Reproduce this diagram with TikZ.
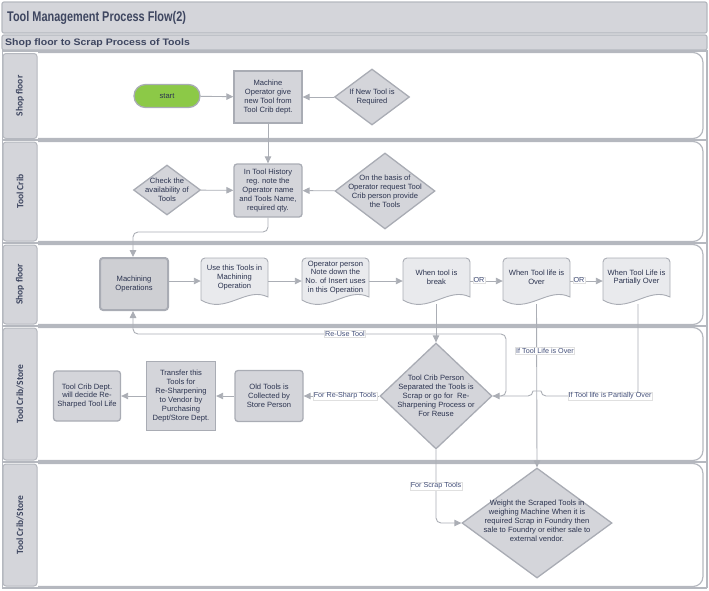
\documentclass[tikz,border=0pt]{standalone}
\usepackage{fontspec}
\setmainfont{Liberation Sans}
\newfontfamily\lanefont{Carlito}
\newfontfamily\titlefam{Liberation Sans}[FakeStretch=0.78]
\newfontfamily\subfam{Liberation Sans}[FakeStretch=1.12]
\usetikzlibrary{arrows.meta,shapes.geometric,calc}
\definecolor{boxfill}{HTML}{D4D5DA}
\definecolor{boxline}{HTML}{A9ACB4}
\definecolor{docfill}{HTML}{E9EAED}
\definecolor{txt}{HTML}{2C3450}
\definecolor{conn}{HTML}{ABAEB5}
\definecolor{lbl}{HTML}{44507A}
\definecolor{startg}{HTML}{8CC947}
\definecolor{laneline}{HTML}{B5B8BF}
\definecolor{titlec}{HTML}{3E4660}
\tikzset{
  base/.style={font=\fontsize{7.6}{8.9}\selectfont, text=txt, align=center, inner sep=1pt},
  box/.style={base, draw=boxline, line width=1.3pt, fill=boxfill, minimum width=68pt, minimum height=52pt},
  dia/.style={diamond, draw=boxline, line width=1.3pt, fill=boxfill, inner sep=0pt},
  docsty/.style={draw=boxline, line width=0.9pt, fill=docfill},
  docanchor/.style={draw=none, minimum width=67pt, minimum height=46pt, inner sep=0pt},
  conn/.style={draw=conn, line width=0.9pt, -{Triangle[length=7pt,width=6.5pt]}, rounded corners=5},
  elabel/.style={font=\fontsize{7.2}{8}\selectfont, text=lbl, fill=white, draw=black!12, line width=0.3pt, inner sep=0.8pt},
  lanelbl/.style={draw=laneline, fill=boxfill, line width=1pt, rounded corners=3, rotate=90, minimum height=34pt, inner sep=0pt,
     font=\lanefont\bfseries\fontsize{9.5}{11}\selectfont, text=titlec},
  lanein/.style={draw=laneline, line width=1.2pt, rounded corners=10},
  sepline/.style={draw=laneline, line width=2.6pt},
  barsty/.style={draw=laneline, fill=boxfill, line width=1.2pt, rounded corners=2}
}
\newcommand\docshape[4]{%
  \begin{scope}[shift={(#2,#3)}]
    \draw[docsty] (0,42) -- (0,4) .. controls (0,1.8) and (1.8,0) .. (4,0) -- (63,0)
      .. controls (65.2,0) and (67,1.8) .. (67,4) -- (67,39)
      .. controls (45,28) and (25,57) .. (0,42) -- cycle;
  \end{scope}
  \node[docanchor] (#1) at (#2+33.5,#3+23) {};
  \node[base] (#1t) at (#2+33.5,#3+19.5) {#4};
}
\begin{document}
\begin{tikzpicture}[x=1pt,y=-1pt]
\useasboundingbox (0,0) rectangle (709,590);
% title bars
\draw[barsty] (2,2) rectangle (707,33);
\node[anchor=west, font=\titlefam\bfseries\fontsize{14}{16}\selectfont, text=titlec, inner sep=0pt] (title) at (7,18) {Tool Management Process Flow(2)};
\draw[barsty] (2,35) rectangle (707,50);
\node[anchor=west, font=\subfam\bfseries\fontsize{9.4}{10}\selectfont, text=titlec, inner sep=0pt] (subtitle) at (5,43) {Shop floor to Scrap Process of Tools};
% lanes
\foreach \t/\b in {51/140,140/243,243/326,326/462,462/588}{
  \draw[lanein] (38,\t+1.5) -- (703,\t+1.5) -- (703,\b-1.5) -- (38,\b-1.5);
}
\node[lanelbl, minimum width=85pt] (lane1) at (20,96) {Shop floor};
\node[lanelbl, minimum width=99pt] (lane2) at (20,191.5) {Tool Crib};
\node[lanelbl, minimum width=79pt] (lane3) at (20,284.5) {Shop floor};
\node[lanelbl, minimum width=132pt] (lane4) at (20,394) {Tool Crib/Store};
\node[lanelbl, minimum width=122pt] (lane5) at (20,525) {Tool Crib/Store};
\foreach \y in {51,140,243,326,462,588}{
  \draw[sepline] (2,\y) -- (707,\y);
}
\draw[sepline] (707,50) -- (707,588);
\draw[draw=laneline, line width=1pt] (2,50) -- (2,588);

% lane 1
\node[base, draw=boxline, line width=1.3pt, fill=startg, rounded corners=11.5, minimum width=66pt, minimum height=23pt] (start) at (167,96) {start};
\node[box] (give) at (268,97) {Machine\\Operator give\\new Tool from\\Tool Crib dept.};
\node[dia, minimum width=75pt, minimum height=56pt] (newq) at (372,97) {};
\node[base] (newqt) at (372,97) {If New Tool is\\Required};

% lane 2
\node[box, rounded corners=3, minimum height=53pt] (hist) at (268,190.5) {In Tool History\\reg. note the\\Operator name\\and Tools Name,\\required qty.};
\node[dia, minimum width=67pt, minimum height=50pt] (chk) at (167,190) {};
\node[base] (chkt) at (167,190) {Check the\\availability of\\Tools};
\node[dia, minimum width=100pt, minimum height=76pt] (basis) at (385,191) {};
\node[base] (basist) at (385,191) {On the basis of\\Operator request Tool\\Crib person provide\\the Tools};

% lane 3
\node[box, line width=2pt, fill=boxfill!97!black, rounded corners=3] (mach) at (134,284) {Machining\\Operations};
\docshape{use}{201}{258}{Use this Tools in\\Machining\\Operation}
\docshape{note}{302}{258}{Operator person\\Note down the\\No. of Insert uses\\in this Operation}
\docshape{brk}{403}{258}{When tool is\\break}
\docshape{over}{503}{258}{When Tool life is\\Over}
\docshape{part}{603}{258}{When Tool Life is\\Partially Over}

% lane 4
\node[dia, minimum width=112pt, minimum height=106pt] (sep) at (436,396) {};
\node[base] (sept) at (436,396) {Tool Crib Person\\Separated the Tools is\\Scrap or go for\ \ Re-\\Sharpening Process or\\For Reuse};
\node[box, rounded corners=3, minimum height=51pt] (old) at (269,396) {Old Tools is\\Collected by\\Store Person};
\node[box, minimum width=69pt, minimum height=69pt] (trans) at (181,396) {Transfer this\\Tools for\\Re-Sharpening\\to Vendor by\\Purchasing\\Dept/Store Dept.};
\node[box, rounded corners=3, minimum width=67pt, minimum height=50pt] (crib) at (87,396) {Tool Crib Dept.\\will decide Re-\\Sharped Tool Life};

% lane 5
\node[dia, minimum width=150pt, minimum height=110pt] (weigh) at (537,523) {};
\node[base] (weight) at (537,521) {Weight the Scraped Tools in\\weighing Machine When it is\\required Scrap in Foundry then\\sale to Foundry or either sale to\\external vendor.};

% connectors
\coordinate (h1) at (268,232);
\coordinate (h2) at (133,232);
\coordinate (r1) at (506,396);
\coordinate (r2) at (506,334);
\coordinate (r3) at (133,334);
\coordinate (p1) at (638,396);
\coordinate (s1) at (436,523);
\draw[conn] (start) -- (give);
\draw[conn] (newq) -- (give);
\draw[conn] (give) -- (hist);
\draw[conn] (chk) -- (hist);
\draw[conn] (basis) -- (hist);
\draw[conn] (hist.south) -- (h1) -- (h2) -- (mach.north -| h2);
\draw[conn] (mach.east |- use.west) -- (use.west);
\draw[conn] (use) -- (note);
\draw[conn] (note) -- (brk);
\draw[conn] (brk) -- (over);
\draw[conn] (over) -- (part);
\draw[conn] (brk.south -| sep.north) -- (sep.north);
\draw[conn] (sep.east) -- (r1) -- (r2) -- (r3) -- (mach.south -| r3);
\draw[conn] (over.south) -- (weigh.north);
\draw[conn] (part.south -| p1) -- (p1) -- (541,396) .. controls (541,391) and (533,391) .. (533,396) -- (sep.east);
\draw[conn] (sep.west) -- (old.east);
\draw[conn] (old) -- (trans);
\draw[conn] (trans) -- (crib);
\draw[conn] (sep.south) -- (s1) -- (weigh.west);

% edge labels
\node[elabel] (or1) at (479,280) {OR};
\node[elabel] (or2) at (579,280) {OR};
\node[elabel] (reuse) at (345,334) {Re-Use Tool};
\node[elabel] (lifeover) at (545,351) {If Tool Life is Over};
\node[elabel] (partover) at (610,396) {If Tool life is Partially Over};
\node[elabel] (resharp) at (345,396) {For Re-Sharp Tools};
\node[elabel] (scrap) at (436,486) {For Scrap Tools};
\end{tikzpicture}
\end{document}
